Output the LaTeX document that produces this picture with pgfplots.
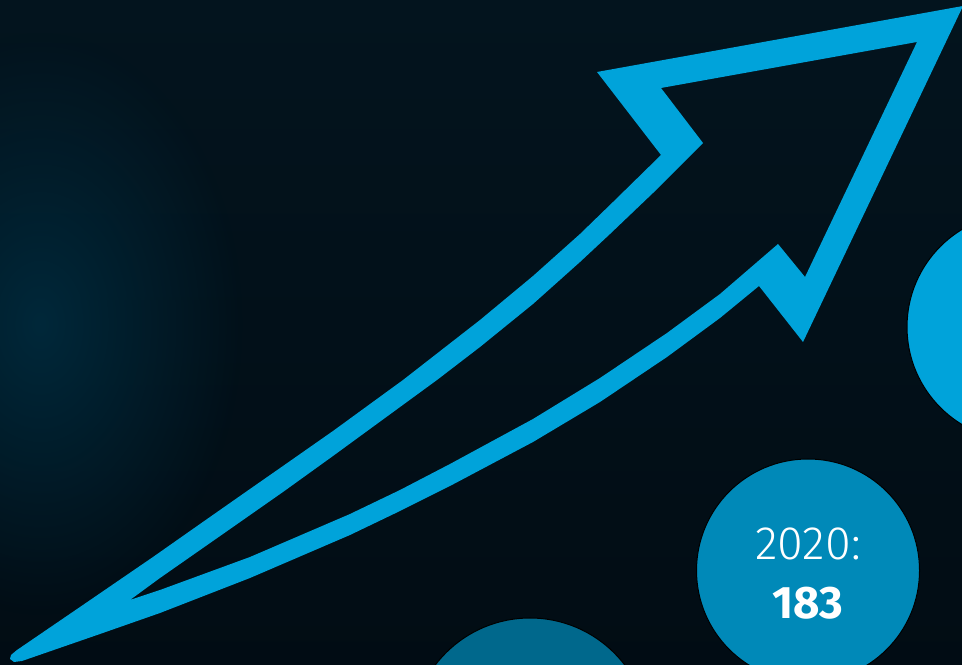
\documentclass[border=0pt]{standalone}
\usepackage{pgfplots}
\pgfplotsset{compat=1.18}
\usetikzlibrary{fadings}
\usepackage{fontspec}
\setmainfont{Fira Sans}
\newfontfamily\lightfont{Fira Sans Light}

\definecolor{bgtop}{RGB}{3,20,30}
\definecolor{bgbot}{RGB}{1,10,17}
\definecolor{glow}{RGB}{0,40,58}
\definecolor{arrowblue}{RGB}{0,163,218}
\definecolor{midblue}{RGB}{0,137,184}
\definecolor{darkblue}{RGB}{0,104,140}

\tikzfading[name=glowfade, inner color=transparent!0, outer color=transparent!100]

\begin{document}
\begin{tikzpicture}
  \begin{axis}[
    x=0.39514pt, y=0.39514pt,
    xmin=0, xmax=1140, ymin=-192, ymax=664,
    hide axis,
    axis background/.style={top color=bgtop, bottom color=bgbot},
    clip marker paths=true,
    unbounded coords=jump,
    ]
    \coordinate (bl) at (axis cs:0,0);
    \coordinate (tr) at (axis cs:962,664);
    % soft glow on the left
    \fill[glow, path fading=glowfade] (axis cs:40,340) ellipse[x radius=80pt, y radius=115pt];

    % arrow: outer outline, then inner outline (even odd fill)
    \addplot[fill=arrowblue, draw=none, even odd rule] coordinates {
      (963,658) (597,592) (661,509) (613,462) (580,430) (533,388) (480,344)
      (403,284) (333,233) (283,198) (250,175) (200,140) (153,107) (80,57)
      (17,14) (11,9) (10,5) (14,2) (22,3) (100,30) (160,51) (250,86)
      (350,129) (400,153) (450,178) (533,222) (600,262) (667,307) (720,346)
      (759,378) (803,322) (963,658)
      (nan,nan)
      (917,622) (661,576) (703,521) (653,471) (610,430) (580,402) (533,360)
      (480,317) (437,284) (333,208) (283,172) (233,137) (160,86) (130,64)
      (160,74) (250,107) (350,150) (400,174) (450,200) (533,245) (600,286)
      (667,331) (720,370) (778,420) (805,387) (917,622)
    };

    % circles
    \addplot[only marks, mark=*, mark size=45.05pt,
      mark options={draw=none, fill=arrowblue}] coordinates {(1021,337)};
    \addplot[only marks, mark=*, mark size=47.02pt,
      mark options={draw=none, fill=darkblue}] coordinates {(530,-73)};
    \addplot[only marks, mark=*, mark size=44.06pt,
      mark options={draw=none, fill=midblue}] coordinates {(808,93.5)};

    \node[text=white, font=\lightfont\fontsize{18.5}{20}\selectfont] at (axis cs:808,120) {2020:};
    \node[text=white, font=\bfseries\fontsize{18}{20}\selectfont] at (axis cs:808,61) {183};
  \end{axis}
  \pgfresetboundingbox
  \path[use as bounding box] (bl) rectangle (tr);
\end{tikzpicture}
\end{document}
